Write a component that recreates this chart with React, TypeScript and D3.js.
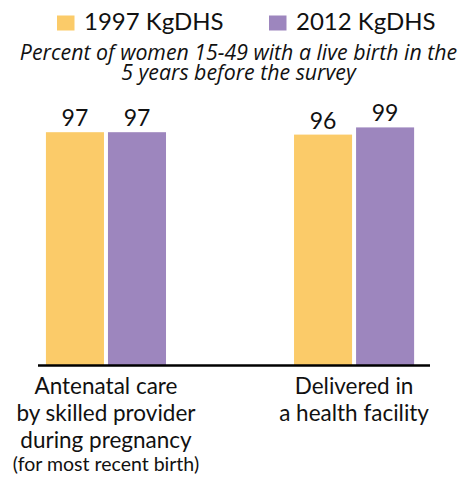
import React from "react";
import * as d3 from "d3";

const categories = ["Antenatal care", "Delivered in a health facility"];
const categoryLines: string[][] = [
  ["Antenatal care", "by skilled provider", "during pregnancy"],
  ["Delivered in", "a health facility"],
];
const categoryNotes = ["(for most recent birth)", ""];
const seriesNames = ["1997 KgDHS", "2012 KgDHS"];
const values1997 = [97, 96];
const values2012 = [97, 99];
const subtitleLines = [
  "Percent of women 15-49 with a live birth in the",
  "5 years before the survey",
];
const colors = ["#FBCB69", "#9D86BE"];

const W = 465;
const H = 477;
const FONT = "Lato, 'Open Sans', sans-serif";

export default function App() {
  const baseY = 365;
  const x = d3
    .scaleBand<string>()
    .domain(categories)
    .range([38, 430])
    .paddingInner(0.516)
    .paddingOuter(0.048)
    .align(0.333);
  const xi = d3
    .scaleBand<string>()
    .domain(seriesNames)
    .range([0, x.bandwidth()])
    .paddingInner(0.0645);
  const y = d3.scaleLinear().domain([0, 100]).range([baseY, baseY - 240]);
  const seriesValues = [values1997, values2012];

  return (
    <svg
      width={W}
      height={H}
      style={{ position: "absolute", left: 0, top: 0, background: "#fff" }}
      fontFamily={FONT}
    >
      {/* legend */}
      {seriesNames.map((s, i) => {
        const lx = i === 0 ? 57 : 269;
        return (
          <g key={s}>
            <rect x={lx} y={15.5} width={17.5} height={15} fill={colors[i]} />
            <text x={lx + 27} y={30} fontSize={24} fill="#111">
              {s}
            </text>
          </g>
        );
      })}
      {/* subtitle */}
      {subtitleLines.map((t, i) => (
        <text
          key={i}
          x={238.5}
          y={60 + i * 19.5}
          fontSize={21.3}
          fontStyle="italic"
          fontFamily="'Open Sans', sans-serif"
          textAnchor="middle"
          fill="#111"
        >
          {t}
        </text>
      ))}
      {/* bars */}
      {categories.map((c, ci) => (
        <g key={c} transform={`translate(${x(c)},0)`}>
          {seriesNames.map((s, si) => {
            const v = seriesValues[si][ci];
            return (
              <g key={s}>
                <rect
                  x={xi(s)}
                  y={y(v)}
                  width={xi.bandwidth()}
                  height={baseY - y(v)}
                  fill={colors[si]}
                />
                <text
                  x={(xi(s) as number) + xi.bandwidth() / 2}
                  y={y(v) - 6}
                  fontSize={23}
                  textAnchor="middle"
                  fill="#111"
                >
                  {v}
                </text>
              </g>
            );
          })}
        </g>
      ))}
      {/* axis line */}
      <line x1={38} x2={430} y1={365.5} y2={365.5} stroke="#000" strokeWidth={2.5} />
      {/* category labels */}
      {categories.map((c, ci) => {
        const cx = (x(c) as number) + x.bandwidth() / 2;
        return (
          <g key={c}>
            {categoryLines[ci].map((t, li) => (
              <text
                key={li}
                x={cx}
                y={394 + li * 27}
                fontSize={22.5}
                textAnchor="middle"
                fill="#111"
              >
                {t}
              </text>
            ))}
            {categoryNotes[ci] && (
              <text
                x={cx}
                y={471}
                fontSize={19.5}
                textAnchor="middle"
                fill="#111"
              >
                {categoryNotes[ci]}
              </text>
            )}
          </g>
        );
      })}
    </svg>
  );
}
